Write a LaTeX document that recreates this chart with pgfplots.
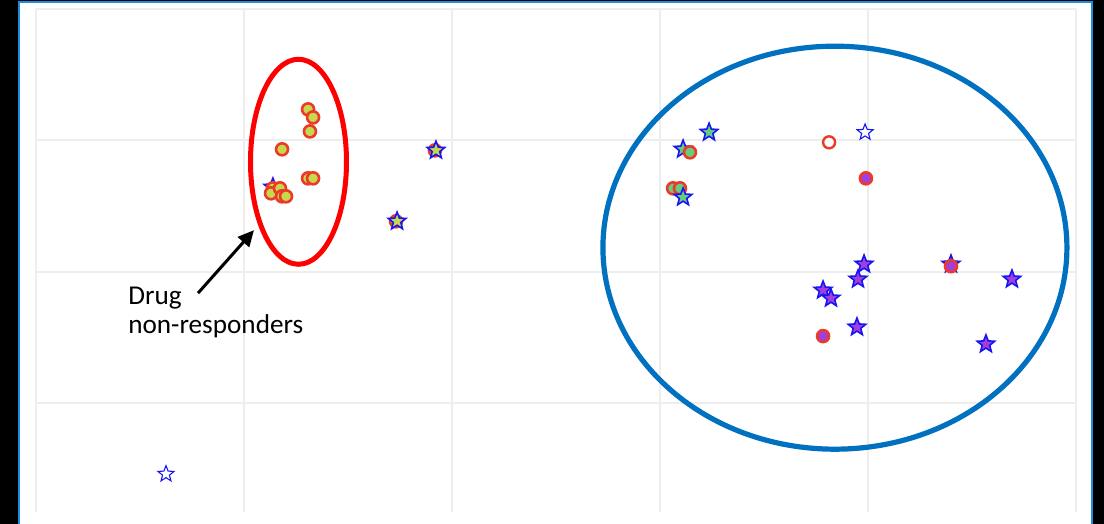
\documentclass[border=0pt]{standalone}
\usepackage{pgfplots}
\pgfplotsset{compat=1.18}
\usepackage{fontspec}
\setmainfont{Carlito}
\usetikzlibrary{arrows.meta}

\definecolor{ptred}{RGB}{236,58,40}
\definecolor{ygreen}{RGB}{198,216,78}
\definecolor{mgreen}{RGB}{104,204,128}
\definecolor{ppurple}{RGB}{162,62,220}
\definecolor{sblue}{RGB}{22,22,240}
\definecolor{ellred}{RGB}{255,0,0}
\definecolor{ellblue}{RGB}{0,112,192}
\definecolor{frameblue}{RGB}{30,140,220}
\definecolor{gridgray}{RGB}{238,238,238}

% filled five-pointed star marker
\pgfdeclareplotmark{fivestar}{%
  \pgfpathmoveto{\pgfpointpolar{90}{\pgfplotmarksize}}%
  \pgfpathlineto{\pgfpointpolar{126}{0.43\pgfplotmarksize}}%
  \pgfpathlineto{\pgfpointpolar{162}{\pgfplotmarksize}}%
  \pgfpathlineto{\pgfpointpolar{198}{0.43\pgfplotmarksize}}%
  \pgfpathlineto{\pgfpointpolar{234}{\pgfplotmarksize}}%
  \pgfpathlineto{\pgfpointpolar{270}{0.43\pgfplotmarksize}}%
  \pgfpathlineto{\pgfpointpolar{306}{\pgfplotmarksize}}%
  \pgfpathlineto{\pgfpointpolar{342}{0.43\pgfplotmarksize}}%
  \pgfpathlineto{\pgfpointpolar{18}{\pgfplotmarksize}}%
  \pgfpathlineto{\pgfpointpolar{54}{0.43\pgfplotmarksize}}%
  \pgfpathclose
  \pgfusepathqfillstroke
}

\pgfplotsset{
  circ/.style={only marks, mark=*, mark size=3pt,
    mark options={draw=ptred, fill=#1, line width=1.3pt}},
  star/.style={only marks, mark=fivestar, mark size=4.6pt,
    mark options={draw=sblue, fill=#1, line width=0.8pt, line join=miter}},
}

\begin{document}
\begin{tikzpicture}
% page background and white panel
\fill[black] (-18pt,-6pt) rectangle (534pt,256pt);
\fill[white] (-8.5pt,-6pt) rectangle (528pt,255pt);
\draw[frameblue, line width=1pt] (-8.5pt,-6pt) -- (-8.5pt,255pt) -- (528pt,255pt) -- (528pt,-6pt);

\begin{axis}[
  at={(0,0)}, anchor=south west,
  scale only axis, width=520pt, height=251.5pt,
  xmin=0, xmax=5, ymin=0.171, ymax=4,
  xtick={0,1,2,3,4,5}, ytick={1,2,3,4},
  xticklabels={}, yticklabels={},
  major tick length=0pt,
  grid=major,
  grid style={draw=gridgray, line width=1pt},
  axis line style={draw=none},
  clip=false,
]
% first group
\addplot[star=ygreen] coordinates {(1.139,2.643)};
\addplot[circ=ygreen] coordinates {
  (1.308,3.236) (1.332,3.175) (1.317,3.068) (1.183,2.932)
  (1.308,2.711) (1.332,2.711) (1.139,2.635) (1.130,2.597)
  (1.173,2.635) (1.183,2.574) (1.202,2.574)
  (1.918,2.924) (1.731,2.384)};
\addplot[star=ygreen] coordinates {(1.923,2.924) (1.736,2.384)};

% second group
\addplot[star=mgreen] coordinates {(3.236,3.061) (3.111,2.932)};
\addplot[circ=mgreen] coordinates {(3.144,2.909) (3.063,2.635) (3.096,2.635)};
\addplot[star=mgreen] coordinates {(3.111,2.567)};

% third group
\addplot[star=ppurple] coordinates {
  (3.981,2.057) (3.952,1.943) (3.784,1.859) (3.822,1.798)
  (3.947,1.578) (4.567,1.449) (4.692,1.943) (4.399,2.057)};
\addplot[circ=ppurple] coordinates {(3.990,2.711) (3.784,1.510) (4.399,2.042)};

% unfilled markers
\addplot[only marks, mark=*, mark size=3pt,
  mark options={draw=ptred, fill=white, line width=1.2pt}] coordinates {(3.813,2.985)};
\addplot[only marks, mark=fivestar, mark size=4.2pt,
  mark options={draw=sblue, fill=white, line width=0.55pt}] coordinates {(3.986,3.061) (0.625,0.460)};

% cluster outlines
\draw[ellred, line width=2.5pt] (axis cs:1.262,2.837) ellipse [x radius=24pt, y radius=51.25pt];
\draw[ellblue, line width=2.6pt] (axis cs:3.841,2.183) ellipse [x radius=116pt, y radius=100.75pt];

% annotation
\draw[black, line width=1.5pt, -{Triangle[length=8pt, width=7.5pt]}]
  (axis cs:0.779,1.837) -- (axis cs:1.048,2.316);
\node[anchor=base west, inner sep=0pt, font=\fontsize{13.6}{16}\selectfont]
  at (axis cs:0.442,1.753) {Drug};
\node[anchor=base west, inner sep=0pt, font=\fontsize{13.6}{16}\selectfont]
  at (axis cs:0.442,1.532) {non-responders};
\end{axis}
\pgfresetboundingbox
\path (-18pt,-6pt) rectangle (534pt,256pt);
\end{tikzpicture}
\end{document}
